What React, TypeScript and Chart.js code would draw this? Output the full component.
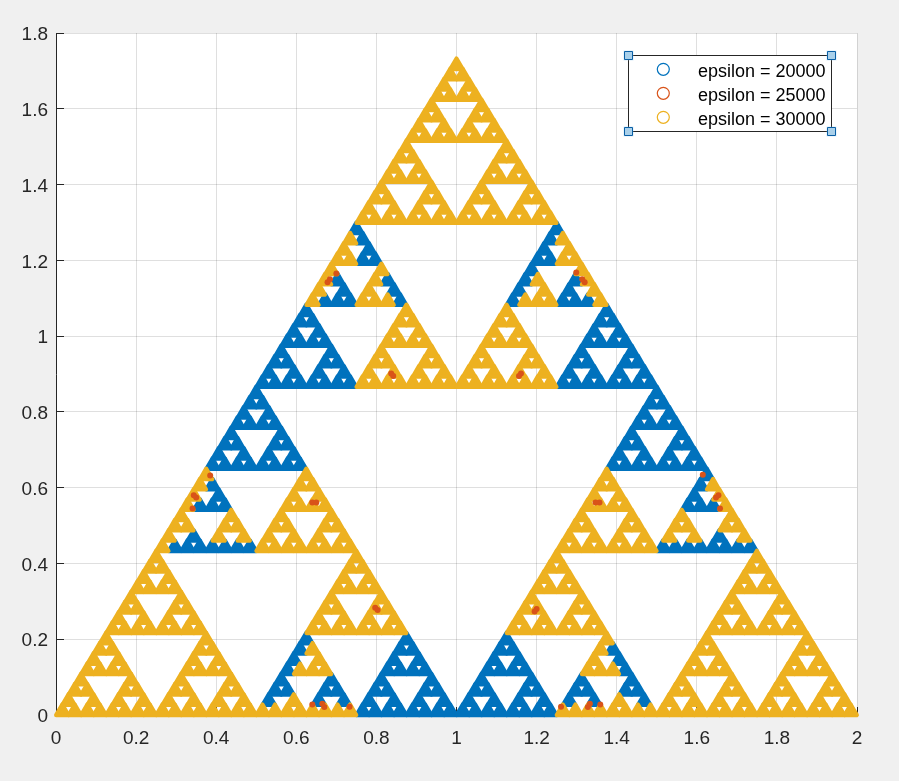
import React, { useEffect, useRef } from "react";
import { Chart, registerables } from "chart.js";

Chart.register(...registerables);

const seriesLabels = ["epsilon = 20000", "epsilon = 25000", "epsilon = 30000"];
const seriesColors = ["#0072BD", "#D95319", "#EDB120"];
const xTicks = [0, 0.2, 0.4, 0.6, 0.8, 1, 1.2, 1.4, 1.6, 1.8, 2];
const yTicks = [0, 0.2, 0.4, 0.6, 0.8, 1, 1.2, 1.4, 1.6, 1.8];
const xUnit = 1 / 64; // x entries of the row tables are in 64ths of a unit

// [y, x positions of the marks on that row]
const blueRows: [number, number[]][] = [
  [1.281, [48, 80]],
  [1.2539, [49, 79]],
  [1.2269, [50, 78]],
  [1.1998, [49, 51, 77, 79]],
  [1.1727, [76]],
  [1.1457, [45, 53, 75, 83]],
  [1.1186, [46, 54, 74, 82]],
  [1.0915, [43, 45, 47, 55, 73, 81, 83, 85]],
  [1.0645, [40, 88]],
  [1.0374, [39, 41, 87, 89]],
  [1.0104, [38, 42, 86, 90]],
  [0.9833, [37, 39, 41, 43, 85, 87, 89, 91]],
  [0.9562, [36, 44, 84, 92]],
  [0.9292, [35, 37, 43, 45, 83, 85, 91, 93]],
  [0.9021, [34, 38, 42, 46, 82, 86, 90, 94]],
  [0.875, [33, 35, 37, 39, 41, 43, 45, 47, 81, 83, 85, 87, 89, 91, 93, 95]],
  [0.848, [32, 96]],
  [0.8209, [31, 33, 95, 97]],
  [0.7939, [30, 34, 94, 98]],
  [0.7668, [29, 31, 33, 35, 93, 95, 97, 99]],
  [0.7397, [28, 36, 92, 100]],
  [0.7127, [27, 29, 35, 37, 91, 93, 99, 101]],
  [0.6856, [26, 30, 34, 38, 90, 94, 98, 102]],
  [0.6585, [25, 27, 29, 31, 33, 35, 37, 39, 89, 91, 93, 95, 97, 99, 101, 103]],
  [0.6315, [104]],
  [0.6044, [25, 103]],
  [0.5773, [26, 102]],
  [0.5503, [23, 25, 27, 101, 103, 105]],
  [0.4691, [22, 106]],
  [0.442, [19, 21, 23, 25, 27, 29, 31, 97, 99, 101, 103, 105, 107, 109, 111]],
  [0.1985, [40, 56, 72]],
  [0.1714, [39, 55, 57, 71, 73, 89]],
  [0.1443, [38, 54, 58, 70, 74, 90]],
  [0.1173, [37, 53, 55, 57, 59, 69, 71, 73, 75, 91]],
  [0.0902, [36, 44, 52, 60, 68, 76, 84, 92]],
  [0.0631, [35, 37, 43, 45, 51, 53, 59, 61, 67, 69, 75, 77, 83, 85, 91, 93]],
  [0.0361, [34, 42, 46, 50, 54, 58, 62, 66, 70, 74, 78, 82, 86, 94]],
  [0.009, [49, 51, 53, 55, 57, 59, 61, 63, 65, 67, 69, 71, 73, 75, 77, 79]],
];

const yellowRows: [number, number[]][] = [
  [1.714, [64]],
  [1.687, [63, 65]],
  [1.6599, [62, 66]],
  [1.6328, [61, 63, 65, 67]],
  [1.6058, [60, 68]],
  [1.5787, [59, 61, 67, 69]],
  [1.5516, [58, 62, 66, 70]],
  [1.5246, [57, 59, 61, 63, 65, 67, 69, 71]],
  [1.4975, [56, 72]],
  [1.4704, [55, 57, 71, 73]],
  [1.4434, [54, 58, 70, 74]],
  [1.4163, [53, 55, 57, 59, 69, 71, 73, 75]],
  [1.3892, [52, 60, 68, 76]],
  [1.3622, [51, 53, 59, 61, 67, 69, 75, 77]],
  [1.3351, [50, 54, 58, 62, 66, 70, 74, 78]],
  [1.308, [49, 51, 53, 55, 57, 59, 61, 63, 65, 67, 69, 71, 73, 75, 77, 79]],
  [1.2539, [47, 81]],
  [1.2269, [46, 82]],
  [1.1998, [45, 47, 81, 83]],
  [1.1727, [44, 52, 84]],
  [1.1457, [43, 51, 77, 85]],
  [1.1186, [42, 50, 78, 86]],
  [1.0915, [41, 49, 51, 53, 75, 77, 79, 87]],
  [1.0645, [56, 72]],
  [1.0374, [55, 57, 71, 73]],
  [1.0104, [54, 58, 70, 74]],
  [0.9833, [53, 55, 57, 59, 69, 71, 73, 75]],
  [0.9562, [52, 60, 68, 76]],
  [0.9292, [51, 53, 59, 61, 67, 69, 75, 77]],
  [0.9021, [50, 54, 58, 62, 66, 70, 74, 78]],
  [0.875, [49, 51, 53, 55, 57, 59, 61, 63, 65, 67, 69, 71, 73, 75, 77, 79]],
  [0.6315, [24, 40, 88]],
  [0.6044, [23, 39, 41, 87, 89, 105]],
  [0.5773, [22, 38, 42, 86, 90, 106]],
  [0.5503, [21, 37, 39, 41, 43, 85, 87, 89, 91, 107]],
  [0.5232, [20, 28, 36, 44, 84, 92, 100, 108]],
  [0.4962, [19, 21, 27, 29, 35, 37, 43, 45, 83, 85, 91, 93, 99, 101, 107, 109]],
  [0.4691, [18, 26, 30, 34, 38, 42, 46, 82, 86, 90, 94, 98, 102, 110]],
  [0.442, [17, 33, 35, 37, 39, 41, 43, 45, 47, 81, 83, 85, 87, 89, 91, 93, 95]],
  [0.415, [16, 48, 80, 112]],
  [0.3879, [15, 17, 47, 49, 79, 81, 111, 113]],
  [0.3608, [14, 18, 46, 50, 78, 82, 110, 114]],
  [0.3338, [13, 15, 17, 19, 45, 47, 49, 51, 77, 79, 81, 83, 109, 111, 113, 115]],
  [0.3067, [12, 20, 44, 52, 76, 84, 108, 116]],
  [0.2796, [11, 13, 19, 21, 43, 45, 51, 53, 75, 77, 83, 85, 107, 109, 115, 117]],
  [0.2526, [10, 14, 18, 22, 42, 46, 50, 54, 74, 78, 82, 86, 106, 110, 114, 118]],
  [0.2255, [9, 11, 13, 15, 17, 19, 21, 23, 41, 43, 45, 47, 49, 51, 53, 55, 73, 75, 77, 79, 81, 83, 85, 87, 105, 107, 109, 111, 113, 115, 117, 119]],
  [0.1985, [8, 24, 88, 104, 120]],
  [0.1714, [7, 9, 23, 25, 41, 87, 103, 105, 119, 121]],
  [0.1443, [6, 10, 22, 26, 42, 86, 102, 106, 118, 122]],
  [0.1173, [5, 7, 9, 11, 21, 23, 25, 27, 39, 41, 43, 85, 87, 89, 101, 103, 105, 107, 117, 119, 121, 123]],
  [0.0902, [4, 12, 20, 28, 100, 108, 116, 124]],
  [0.0631, [3, 5, 11, 13, 19, 21, 27, 29, 99, 101, 107, 109, 115, 117, 123, 125]],
  [0.0361, [2, 6, 10, 14, 18, 22, 26, 30, 38, 90, 98, 102, 106, 110, 114, 118, 122, 126]],
  [0.009, [1, 3, 5, 7, 9, 11, 13, 15, 17, 19, 21, 23, 25, 27, 29, 31, 33, 35, 37, 39, 41, 43, 45, 47, 81, 83, 85, 87, 89, 91, 93, 95, 97, 99, 101, 103, 105, 107, 109, 111, 113, 115, 117, 119, 121, 123, 125, 127]],
];

const redPoints: [number, number][] = [
  [0.678, 1.142], [0.684, 1.15], [0.7, 1.165], [0.837, 0.901], [0.842, 0.895],
  [1.299, 1.168], [1.32, 1.142], [1.314, 1.15], [1.161, 0.901], [1.156, 0.895],
  [0.35, 0.574], [0.344, 0.58], [0.341, 0.545], [0.385, 0.632],
  [0.64, 0.561], [0.65, 0.561], [1.357, 0.561], [1.347, 0.561],
  [1.648, 0.574], [1.654, 0.58], [1.658, 0.545], [1.615, 0.634],
  [0.797, 0.283], [0.803, 0.277], [1.2, 0.28], [1.195, 0.273],
  [0.67, 0.021], [0.665, 0.03], [0.64, 0.028], [0.733, 0.022],
  [1.328, 0.021], [1.333, 0.03], [1.359, 0.028], [1.261, 0.022],
];

const expand = (rows: [number, number[]][]) =>
  rows.flatMap(([y, xs]) => xs.map((n) => ({ x: n * xUnit, y })));

const box = { left: 628.5, top: 55.5, right: 831.5, bottom: 131.5 };

function legendMarker(color: string) {
  const c = document.createElement("canvas");
  c.width = 20;
  c.height = 20;
  const g = c.getContext("2d")!;
  g.strokeStyle = color;
  g.lineWidth = 1.2;
  g.beginPath();
  g.arc(10.3, 7.3, 6, 0, Math.PI * 2);
  g.stroke();
  return c;
}

const shiftLabels = (dy: number) => (s: any) => {
  const base = s.constructor.prototype._computeLabelItems;
  s._computeLabelItems = function (area: any) {
    return base.call(this, area).map((item: any) => ({
      ...item,
      options: {
        ...item.options,
        translation: [item.options.translation[0], item.options.translation[1] + dy],
      },
    }));
  };
};

export default function App() {
  const ref = useRef<HTMLCanvasElement>(null);
  useEffect(() => {
    document.body.style.margin = "0";
    document.body.style.background = "#f0f0f0";
    const markers = seriesColors.map((col) => legendMarker(col));
    const frame = {
      id: "frame",
      beforeDraw(chart: any) {
        const { ctx, chartArea: a } = chart;
        ctx.save();
        ctx.fillStyle = "#ffffff";
        ctx.fillRect(a.left, a.top, a.right - a.left, a.bottom - a.top);
        ctx.restore();
      },
      beforeLayout(chart: any) {
        chart.legend._layers = () => [{ z: 1, draw: (area: any) => chart.legend.draw(area) }];
      },
      afterLayout(chart: any) {
        const l = chart.legend;
        l.left = 631;
        l.right = 860;
        l.top = 57;
        l.bottom = 140;
        l.width = 229;
        l.height = 83;
      },
      beforeDatasetsDraw(chart: any) {
        chart.ctx.lineJoin = "round";
      },
      afterDatasetsDraw(chart: any) {
        const { ctx } = chart;
        ctx.save();
        ctx.fillStyle = "#ffffff";
        ctx.strokeStyle = "#262626";
        ctx.lineWidth = 1;
        ctx.fillRect(box.left, box.top, box.right - box.left, box.bottom - box.top);
        ctx.strokeRect(box.left, box.top, box.right - box.left, box.bottom - box.top);
        ctx.restore();
      },
      afterDraw(chart: any) {
        const { ctx } = chart;
        ctx.save();
        for (const x of [box.left, box.right]) {
          for (const y of [box.top, box.bottom]) {
            ctx.fillStyle = "rgba(150,200,235,0.35)";
            ctx.fillRect(x - 5, y - 5, 10, 10);
            ctx.fillStyle = "#a9d0ea";
            ctx.strokeStyle = "#0a5fa5";
            ctx.lineWidth = 1;
            ctx.fillRect(x - 4, y - 4, 8, 8);
            ctx.strokeRect(x - 4, y - 4, 8, 8);
          }
        }
        ctx.restore();
      },
    };
    const triangle = {
      pointStyle: "triangle",
      pointRadius: 7.1,
      pointBorderWidth: 4.1,
      pointHoverRadius: 7.1,
      showLine: false,
      clip: false as const,
    };
    const tickFont = { family: "'Liberation Sans', Arial, sans-serif", size: 19 };
    const legendFont = { family: "'Liberation Sans', Arial, sans-serif", size: 18 };
    const chart = new Chart(ref.current!, {
      type: "scatter",
      data: {
        datasets: [
          {
            label: seriesLabels[0],
            data: expand(blueRows),
            backgroundColor: seriesColors[0],
            borderColor: seriesColors[0],
            order: 3,
            ...triangle,
          },
          {
            label: seriesLabels[1],
            data: redPoints.map(([x, y]) => ({ x, y })),
            backgroundColor: seriesColors[1],
            borderColor: seriesColors[1],
            order: 1,
            pointStyle: "circle",
            pointRadius: 3,
            pointBorderWidth: 0,
            showLine: false,
            clip: false as const,
          },
          {
            label: seriesLabels[2],
            data: expand(yellowRows),
            backgroundColor: seriesColors[2],
            borderColor: seriesColors[2],
            order: 2,
            ...triangle,
          },
        ],
      },
      options: {
        responsive: false,
        animation: false,
        layout: { padding: { left: 0, top: 33, right: 42, bottom: 0 } },
        plugins: {
          tooltip: { enabled: false },
          legend: {
            position: "chartArea" as any,
            align: "start",
            labels: {
              usePointStyle: true,
              pointStyleWidth: 52,
              boxHeight: 18,
              padding: 6,
              color: "#000000",
              font: legendFont,
              generateLabels: () =>
                seriesLabels.map((text, i) => ({
                  text,
                  fillStyle: "transparent",
                  strokeStyle: seriesColors[i],
                  fontColor: "#000000",
                  lineWidth: 1,
                  pointStyle: markers[i],
                  datasetIndex: i,
                  hidden: false,
                })) as any,
            },
          },
        },
        scales: {
          x: {
            type: "linear",
            min: 0,
            max: 2,
            afterBuildTicks: (s: any) => {
              s.ticks = xTicks.map((value) => ({ value }));
            },
            afterFit: (s: any) => {
              s.height = 66;
            },
            grid: { color: "rgba(38,38,38,0.15)", tickColor: "#262626", tickLength: -8 },
            border: { color: "#262626", width: 1 },
            ticks: {
              color: "#262626",
              font: tickFont,
              padding: 20,
              autoSkip: false,
              maxRotation: 0,
              callback: (v: any) => String(Number(Number(v).toFixed(1))),
            },
          },
          y: {
            type: "linear",
            min: 0,
            max: 1.8,
            afterBuildTicks: (s: any) => {
              s.ticks = yTicks.map((value) => ({ value }));
              shiftLabels(2)(s);
            },
            afterFit: (s: any) => {
              s.width = 56;
            },
            grid: { color: "rgba(38,38,38,0.15)", tickColor: "#262626", tickLength: -8 },
            border: { color: "#262626", width: 1 },
            ticks: {
              color: "#262626",
              font: tickFont,
              padding: 16,
              autoSkip: false,
              callback: (v: any) => String(Number(Number(v).toFixed(1))),
            },
          },
        },
      },
      plugins: [frame],
    } as any);
    return () => chart.destroy();
  }, []);
  return <canvas ref={ref} width={899} height={781} style={{ display: "block" }} />;
}
